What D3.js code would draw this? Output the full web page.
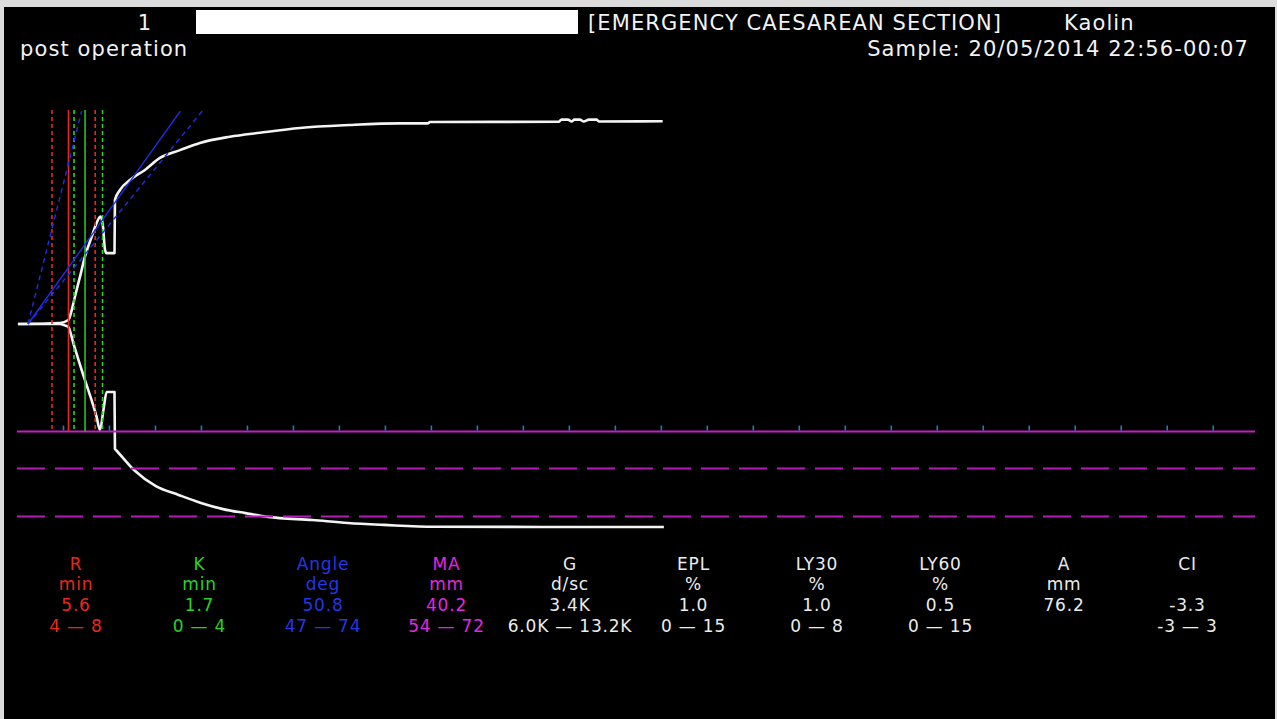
<!DOCTYPE html>
<html lang="en">
<head>
  <meta charset="UTF-8">
  <title>TEG</title>
  <style>
    html, body { margin: 0; padding: 0; background: #dcdcdc; }
    svg { display: block; }
    text { font-family: "DejaVu Sans", sans-serif; }
  </style>
</head>
<body>
  <script src="https://cdn.jsdelivr.net/npm/d3@7/dist/d3.min.js"></script>
  <script>
    // trace (minutes, amplitude mm), upper and lower halves
    let upperT = [0.1, 4.67, 5.58, 5.95, 6.3, 6.85, 7.39, 8.12, 8.66, 9.02, 9.1, 9.35, 9.57, 9.73, 10.6, 10.65, 11.2, 12.28, 13.91, 15.54, 17.72, 19.89, 23.15, 26.41, 30.76, 36.2, 41.63, 44.67, 44.89, 58.9, 59.2, 59.9, 60.3, 60.6, 61.2, 61.6, 62.2, 63.0, 63.3, 70.2];
    let upperA = [0, 0.4, 1.5, 5.2, 10.2, 17.7, 25.2, 32.6, 37.8, 40.1, 40.2, 36.4, 27.7, 26.5, 26.5, 46.4, 50.1, 53.8, 57.6, 62.1, 65.0, 67.7, 70.0, 71.5, 73.3, 74.4, 75.0, 75.0, 75.5, 75.6, 76.4, 76.4, 75.7, 76.4, 76.4, 75.7, 76.4, 76.4, 75.7, 75.8];
    let lowerT = [0.1, 4.67, 5.11, 5.58, 6.12, 7.03, 7.75, 8.66, 9.02, 9.4, 9.75, 10.6, 10.65, 10.76, 12.72, 15.1, 17.57, 20.0, 22.4, 24.84, 27.28, 32.12, 35.98, 39.9, 45.43, 70.33];
    let lowerA = [0, 0, 0.4, 1.1, 7.1, 17.2, 24.7, 34.8, 39.6, 32.1, 25.4, 25.4, 46.7, 47.1, 54.6, 60.6, 63.9, 66.9, 69.2, 70.7, 72.1, 73.3, 74.4, 75.1, 75.8, 75.9];

    let tickMinutes = d3.range(5, 131, 5);
    let maLine = 40.2;
    let maRange = [54, 72];
    let rValue = 5.6, rkValue = 7.4;
    let rRange = [3.8, 8.5];
    let kRange = [6.2, 9.3];
    let angleStart = 1.2;
    let angleValue = 50.8;
    let angleRange = [47, 74];

    let params = ["R", "K", "Angle", "MA", "G", "EPL", "LY30", "LY60", "A", "CI"];
    let units = ["min", "min", "deg", "mm", "d/sc", "%", "%", "%", "mm", ""];
    let values = ["5.6", "1.7", "50.8", "40.2", "3.4K", "1.0", "1.0", "0.5", "76.2", "-3.3"];
    let ranges = ["4 \u2014 8", "0 \u2014 4", "47 \u2014 74", "54 \u2014 72", "6.0K \u2014 13.2K", "0 \u2014 15", "0 \u2014 8", "0 \u2014 15", "", "-3 \u2014 3"];
    let colors = ["#e8281e", "#2ad22a", "#2238e6", "#e028e0", "#ececec", "#ececec", "#ececec", "#ececec", "#ececec", "#ececec"];

    let width = 1277, height = 719;
    let svg = d3.select("body").append("svg")
      .attr("width", width)
      .attr("height", height);

    svg.append("rect").attr("width", width).attr("height", height).attr("fill", "#dcdcdc");
    svg.append("rect").attr("x", 4).attr("y", 7).attr("width", 1271).attr("height", 712).attr("fill", "#000");

    let x = d3.scaleLinear().domain([0, 134.6]).range([17, 1255]);
    let y = d3.scaleLinear().domain([0, 100]).range([324, 56.5]);

    // header
    let head = svg.append("g").attr("fill", "#f2f2f2").attr("font-size", 21).attr("letter-spacing", 1.1);
    head.append("text").attr("x", 145).attr("y", 30).attr("text-anchor", "middle").text("1");
    svg.append("rect").attr("x", 196).attr("y", 10).attr("width", 382).attr("height", 24).attr("fill", "#fff");
    head.append("text").attr("x", 588).attr("y", 30).text("[EMERGENCY CAESAREAN SECTION]");
    head.append("text").attr("x", 1064).attr("y", 30).text("Kaolin");
    head.append("text").attr("x", 20).attr("y", 56).text("post operation");
    head.append("text").attr("x", 1249).attr("y", 56).attr("text-anchor", "end").text("Sample: 20/05/2014 22:56-00:07");

    // trace
    let line = d3.line().x(d => x(d[0])).y(d => y(d[1])).curve(d3.curveMonotoneX);
    svg.append("path")
      .attr("d", line(upperT.map((t, i) => [t, upperA[i]])))
      .attr("fill", "none").attr("stroke", "#f4f4f4").attr("stroke-width", 2.6)
      .attr("stroke-linejoin", "round");
    svg.append("path")
      .attr("d", line(lowerT.map((t, i) => [t, -lowerA[i]])))
      .attr("fill", "none").attr("stroke", "#f4f4f4").attr("stroke-width", 2.6)
      .attr("stroke-linejoin", "round");

    // MA line and range
    svg.append("line")
      .attr("x1", x(0)).attr("x2", x(134.6))
      .attr("y1", y(-maLine)).attr("y2", y(-maLine))
      .attr("stroke", "#c21ec2").attr("stroke-width", 2);
    svg.selectAll(".marange").data(maRange).enter().append("line")
      .attr("x1", x(0)).attr("x2", x(134.6))
      .attr("y1", d => y(-d)).attr("y2", d => y(-d))
      .attr("stroke", "#b41eb4").attr("stroke-width", 2)
      .attr("stroke-dasharray", "28,10");

    // time ticks
    let axis = svg.append("g")
      .attr("transform", "translate(0," + (y(-maLine) - 1) + ")")
      .call(d3.axisTop(x).tickValues(tickMinutes).tickSize(5).tickFormat(""));
    axis.select(".domain").remove();
    axis.selectAll(".tick line").attr("stroke", "#1c7cc4").attr("stroke-width", 1.6);

    // R / K markers
    let markers = [
      { t: rRange[0], c: "#e8281e", dash: "4,3" },
      { t: rValue, c: "#e8281e", dash: null },
      { t: kRange[0], c: "#2ad22a", dash: "4,3" },
      { t: rkValue, c: "#22c222", dash: null },
      { t: rRange[1], c: "#e8281e", dash: "4,3" },
      { t: kRange[1], c: "#2ad22a", dash: "4,3" }
    ];
    svg.selectAll(".marker").data(markers).enter().append("line")
      .attr("x1", d => x(d.t)).attr("x2", d => x(d.t))
      .attr("y1", y(80)).attr("y2", y(-maLine))
      .attr("stroke", d => d.c).attr("stroke-width", 1.6)
      .attr("stroke-dasharray", d => d.dash);

    // angle lines
    let x0 = x(angleStart), y0 = y(0), yTop = y(79.6);
    let angles = [
      { a: angleRange[0], dash: "5,4" },
      { a: angleRange[1], dash: "5,4" },
      { a: angleValue, dash: null }
    ];
    svg.selectAll(".angle").data(angles).enter().append("line")
      .attr("x1", x0).attr("y1", y0)
      .attr("x2", d => x0 + (y0 - yTop) / (1.14 * Math.tan(d.a * Math.PI / 180)))
      .attr("y2", yTop)
      .attr("stroke", "#1e2ee6").attr("stroke-width", 1.4)
      .attr("stroke-dasharray", d => d.dash);

    // results table
    let colX = d3.scalePoint().domain(params).range([76, 1187.5]);
    let rows = [params, units, values, ranges];
    let rowY = [570, 590, 611, 632];
    let table = svg.append("g").attr("font-size", 17).attr("letter-spacing", 0.8).attr("text-anchor", "middle");
    rows.forEach((row, r) => {
      table.selectAll(".row" + r).data(row).enter().append("text")
        .attr("x", (d, i) => colX(params[i]))
        .attr("y", rowY[r])
        .attr("fill", (d, i) => colors[i])
        .text(d => d);
    });
  </script>
</body>
</html>
